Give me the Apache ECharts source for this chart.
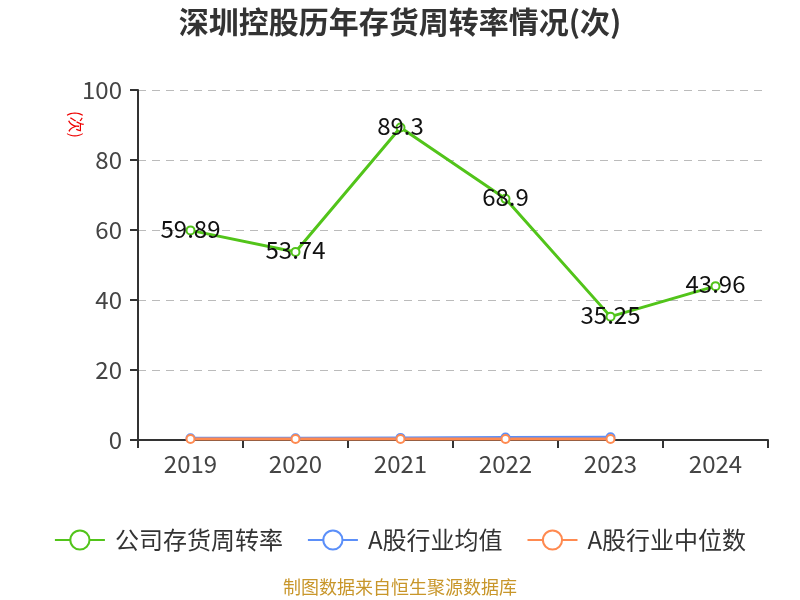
<!DOCTYPE html>
<html><head><meta charset="utf-8">
<script src="https://cdn.jsdelivr.net/npm/echarts@6/dist/echarts.min.js"></script>
<style>html,body{margin:0;padding:0;background:#fff}#c{width:800px;height:600px}</style>
</head><body><div id="c"></div>
<script>
var years = ['2019','2020','2021','2022','2023','2024'];
var company = [59.89, 53.74, 89.3, 68.9, 35.25, 43.96];
var industryMean = [0.5, 0.5, 0.6, 0.7, 0.8, null];
var industryMedian = [0.3, 0.3, 0.3, 0.3, 0.3, null];
var yTicks = [0, 20, 40, 60, 80, 100];

var chart = echarts.init(document.getElementById('c'));
var font = '"Noto Sans CJK SC", "Noto Sans", sans-serif';
chart.setOption({
  textStyle: {fontFamily: font},
  title: {text: '深圳控股历年存货周转率情况(次)', left: 'center', top: 2,
    textStyle: {fontSize: 30, fontWeight: 'bold', color: '#333', fontFamily: font}},
  grid: {left: 138, right: 32, top: 90, bottom: 160},
  legend: {top: 523, itemWidth: 50, itemHeight: 24, itemGap: 24,
    textStyle: {fontSize: 24, color: '#333', fontFamily: font, padding: [0, 0, 0, 5]},
    data: ['公司存货周转率', 'A股行业均值', 'A股行业中位数']},
  graphic: [
    {type: 'text', left: 'center', top: 578,
      style: {text: '制图数据来自恒生聚源数据库', fill: '#c8962a', fontSize: 18, fontFamily: font}},
    {type: 'text', x: 84, y: 111, rotation: -Math.PI / 2,
      style: {text: '(次)', fill: '#e00', fontSize: 16, fontFamily: font}}
  ],
  xAxis: {type: 'category', data: years, boundaryGap: true,
    axisLine: {lineStyle: {color: '#333', width: 2}},
    axisTick: {show: true, length: 8, lineStyle: {color: '#333', width: 2}},
    axisLabel: {fontSize: 24, color: '#444', margin: 12}},
  yAxis: {type: 'value', min: yTicks[0], max: yTicks[yTicks.length-1], interval: 20,
    axisLine: {show: true, lineStyle: {color: '#333', width: 2}},
    axisTick: {show: true, length: 8, lineStyle: {color: '#333', width: 2}},
    axisLabel: {fontSize: 24, color: '#444', margin: 16},
    splitLine: {lineStyle: {type: [8, 6], color: '#bbb', width: 1.2}}},
  series: [
    {name: '公司存货周转率', type: 'line', data: company, symbol: 'emptyCircle', symbolSize: 8,
      lineStyle: {width: 3, color: '#52c41a'}, itemStyle: {color: '#52c41a', borderWidth: 2},
      label: {show: true, position: 'inside', fontSize: 24, color: '#111', offset: [0, -2]}, z: 3},
    {name: 'A股行业均值', type: 'line', data: industryMean, symbol: 'emptyCircle', symbolSize: 8,
      lineStyle: {width: 3, color: '#5b8ff9'}, itemStyle: {color: '#5b8ff9', borderWidth: 2}, z: 2},
    {name: 'A股行业中位数', type: 'line', data: industryMedian, symbol: 'emptyCircle', symbolSize: 8,
      lineStyle: {width: 3, color: '#ff8a50'}, itemStyle: {color: '#ff8a50', borderWidth: 2}, z: 2}
  ]
});
</script></body></html>
